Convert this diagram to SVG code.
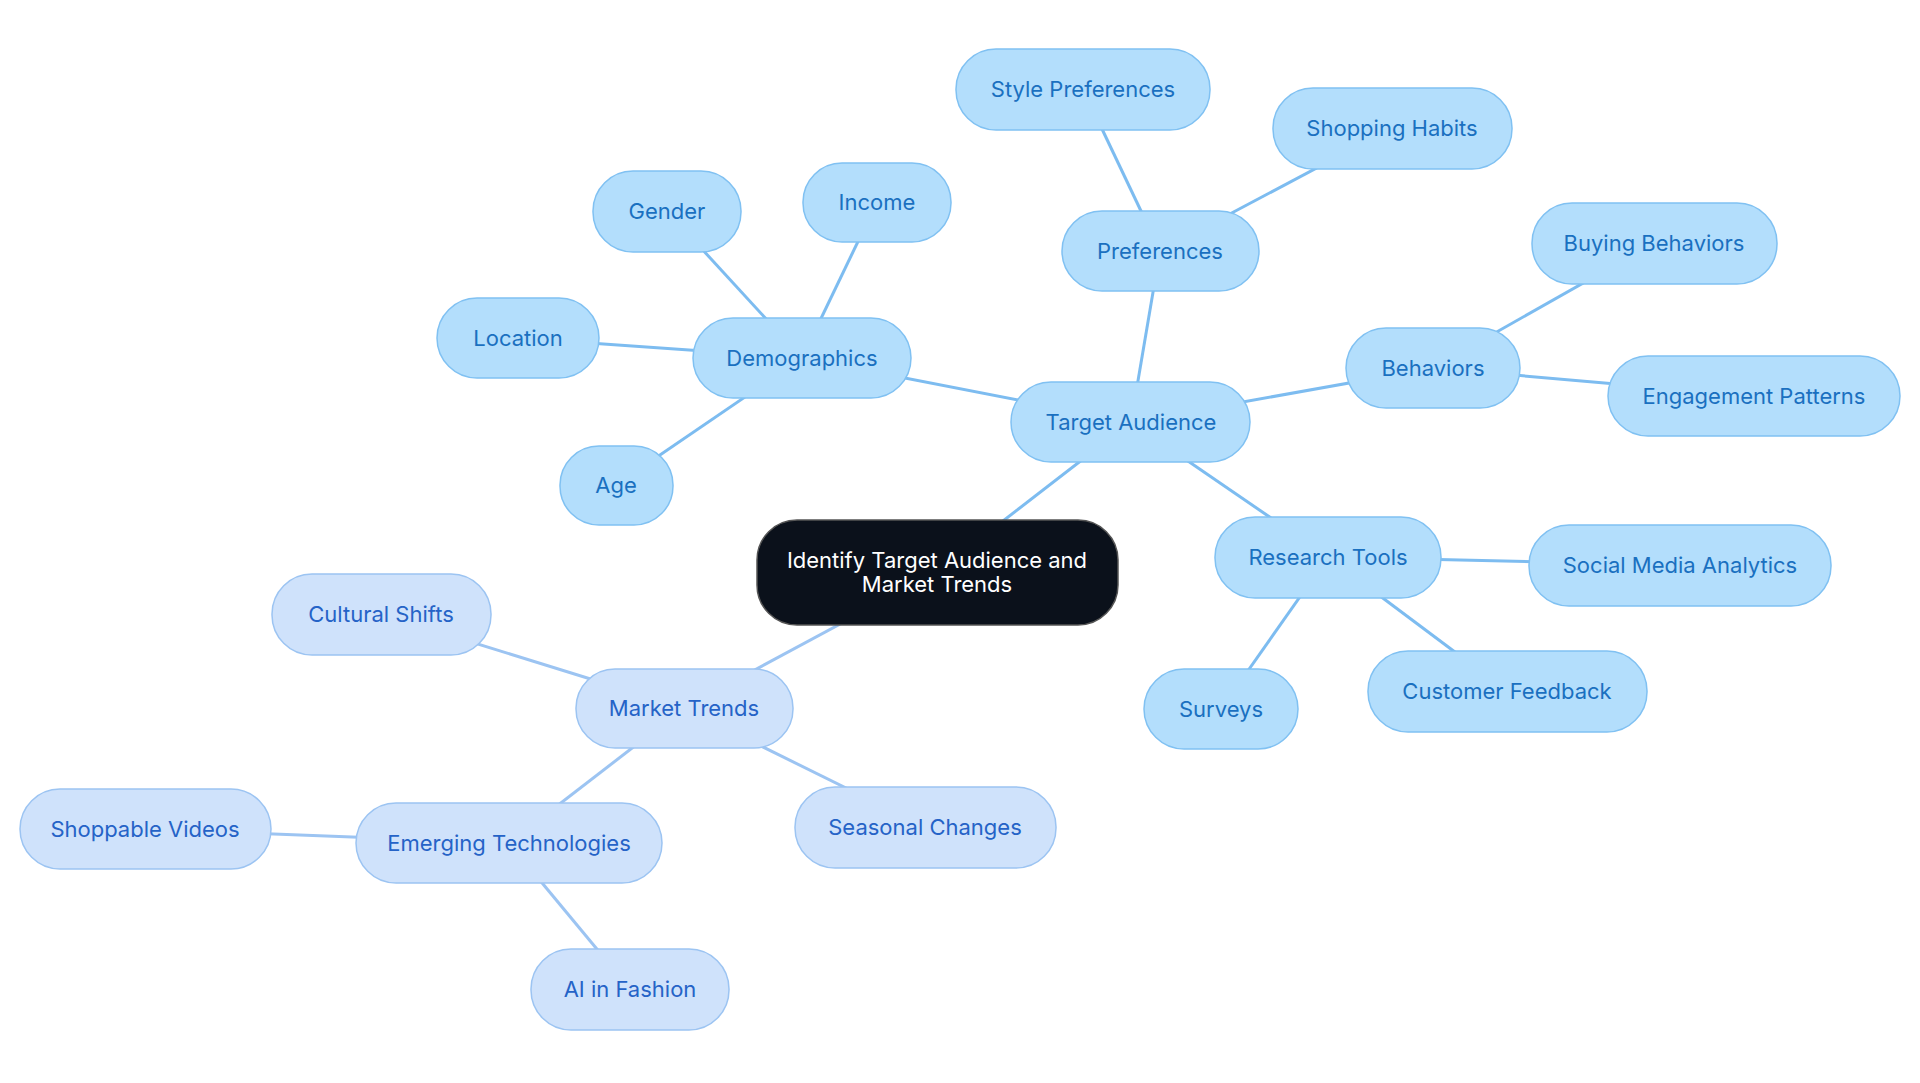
<svg xmlns="http://www.w3.org/2000/svg" width="1920" height="1083" viewBox="0 0 1920 1083">
<style>
.e{stroke:#7dbcf0;stroke-width:3;fill:none}
.m{stroke:#9cc4f2}
.a rect{fill:#b3defc;stroke:#80c1f2;stroke-width:1.5}
.b rect{fill:#cfe2fb;stroke:#9cc4f2;stroke-width:1.5}
text{font-family:Inter,"Noto Sans",sans-serif;font-size:22px;text-anchor:middle;dominant-baseline:central}
.a text{fill:#1a70c0}
.b text{fill:#2563c7}
</style>
<rect width="1920" height="1083" fill="#fff"/>
<g id="connectors">
<line class="e" x1="937" y1="572" x2="1131" y2="422"/>
<line class="e m" x1="937" y1="572" x2="684" y2="708"/>
<line class="e" x1="1131" y1="422" x2="802" y2="358"/>
<line class="e" x1="802" y1="358" x2="667" y2="211"/>
<line class="e" x1="802" y1="358" x2="877" y2="202"/>
<line class="e" x1="802" y1="358" x2="518" y2="338"/>
<line class="e" x1="802" y1="358" x2="616" y2="485"/>
<line class="e" x1="1131" y1="422" x2="1160" y2="251"/>
<line class="e" x1="1160" y1="251" x2="1083" y2="89"/>
<line class="e" x1="1160" y1="251" x2="1392" y2="128"/>
<line class="e" x1="1131" y1="422" x2="1433" y2="368"/>
<line class="e" x1="1433" y1="368" x2="1654" y2="243"/>
<line class="e" x1="1433" y1="368" x2="1754" y2="396"/>
<line class="e" x1="1131" y1="422" x2="1328" y2="557"/>
<line class="e" x1="1328" y1="557" x2="1680" y2="565"/>
<line class="e" x1="1328" y1="557" x2="1221" y2="709"/>
<line class="e" x1="1328" y1="557" x2="1507" y2="691"/>
<line class="e m" x1="684" y1="708" x2="381" y2="614"/>
<line class="e m" x1="684" y1="708" x2="925" y2="827"/>
<line class="e m" x1="684" y1="708" x2="509" y2="843"/>
<line class="e m" x1="509" y1="843" x2="145" y2="829"/>
<line class="e m" x1="509" y1="843" x2="630" y2="989"/>
</g>
<g id="center"><rect x="757" y="520" width="361" height="105" rx="40" fill="#0b111b" stroke="#555" stroke-width="1.5"/><text x="937" y="560" fill="#fff">Identify Target Audience and</text><text x="937" y="584" fill="#fff">Market Trends</text></g>
<g id="target" class="a"><rect x="1011" y="382" width="239" height="80" rx="40"/><text x="1131" y="422">Target Audience</text></g>
<g id="demographics" class="a"><rect x="693" y="318" width="218" height="80" rx="40"/><text x="802" y="358">Demographics</text></g>
<g id="gender" class="a"><rect x="593" y="171" width="148" height="81" rx="40"/><text x="667" y="211">Gender</text></g>
<g id="income" class="a"><rect x="803" y="163" width="148" height="79" rx="39"/><text x="877" y="202">Income</text></g>
<g id="location" class="a"><rect x="437" y="298" width="162" height="80" rx="40"/><text x="518" y="338">Location</text></g>
<g id="age" class="a"><rect x="560" y="446" width="113" height="79" rx="39"/><text x="616" y="485">Age</text></g>
<g id="preferences" class="a"><rect x="1062" y="211" width="197" height="80" rx="40"/><text x="1160" y="251">Preferences</text></g>
<g id="style" class="a"><rect x="956" y="49" width="254" height="81" rx="40"/><text x="1083" y="89">Style Preferences</text></g>
<g id="shopping" class="a"><rect x="1273" y="88" width="239" height="81" rx="40"/><text x="1392" y="128">Shopping Habits</text></g>
<g id="behaviors" class="a"><rect x="1346" y="328" width="174" height="80" rx="40"/><text x="1433" y="368">Behaviors</text></g>
<g id="buying" class="a"><rect x="1532" y="203" width="245" height="81" rx="40"/><text x="1654" y="243">Buying Behaviors</text></g>
<g id="engagement" class="a"><rect x="1608" y="356" width="292" height="80" rx="40"/><text x="1754" y="396">Engagement Patterns</text></g>
<g id="research" class="a"><rect x="1215" y="517" width="226" height="81" rx="40"/><text x="1328" y="557">Research Tools</text></g>
<g id="social" class="a"><rect x="1529" y="525" width="302" height="81" rx="40"/><text x="1680" y="565">Social Media Analytics</text></g>
<g id="surveys" class="a"><rect x="1144" y="669" width="154" height="80" rx="40"/><text x="1221" y="709">Surveys</text></g>
<g id="feedback" class="a"><rect x="1368" y="651" width="279" height="81" rx="40"/><text x="1507" y="691">Customer Feedback</text></g>
<g id="market" class="b"><rect x="576" y="669" width="217" height="79" rx="39"/><text x="684" y="708">Market Trends</text></g>
<g id="cultural" class="b"><rect x="272" y="574" width="219" height="81" rx="40"/><text x="381" y="614">Cultural Shifts</text></g>
<g id="seasonal" class="b"><rect x="795" y="787" width="261" height="81" rx="40"/><text x="925" y="827">Seasonal Changes</text></g>
<g id="emerging" class="b"><rect x="356" y="803" width="306" height="80" rx="40"/><text x="509" y="843">Emerging Technologies</text></g>
<g id="shoppable" class="b"><rect x="20" y="789" width="251" height="80" rx="40"/><text x="145" y="829">Shoppable Videos</text></g>
<g id="ai" class="b"><rect x="531" y="949" width="198" height="81" rx="40"/><text x="630" y="989">AI in Fashion</text></g>
</svg>
